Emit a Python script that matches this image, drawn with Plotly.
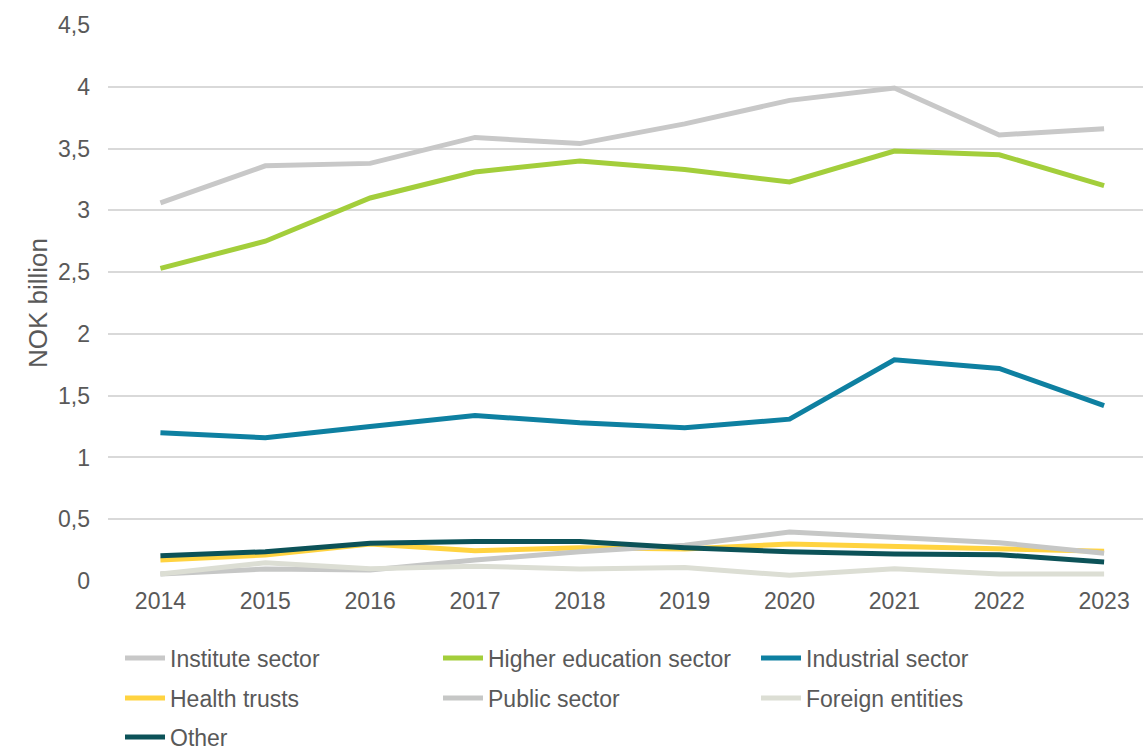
import plotly.graph_objects as go

years = [2014, 2015, 2016, 2017, 2018, 2019, 2020, 2021, 2022, 2023]

institute_sector = [3.06, 3.36, 3.38, 3.59, 3.54, 3.70, 3.89, 3.99, 3.61, 3.66]
higher_education_sector = [2.53, 2.75, 3.10, 3.31, 3.40, 3.33, 3.23, 3.48, 3.45, 3.20]
industrial_sector = [1.20, 1.16, 1.25, 1.34, 1.28, 1.24, 1.31, 1.79, 1.72, 1.42]
health_trusts = [0.17, 0.21, 0.30, 0.245, 0.27, 0.26, 0.30, 0.28, 0.27, 0.24]
public_sector = [0.057, 0.097, 0.089, 0.17, 0.237, 0.29, 0.396, 0.353, 0.31, 0.224]
foreign_entities = [0.057, 0.148, 0.10, 0.12, 0.097, 0.11, 0.046, 0.10, 0.057, 0.057]
other = [0.205, 0.237, 0.305, 0.32, 0.32, 0.27, 0.237, 0.218, 0.213, 0.154]

y_ticks = [0, 0.5, 1, 1.5, 2, 2.5, 3, 3.5, 4, 4.5]
y_tick_text = ["0", "0,5", "1", "1,5", "2", "2,5", "3", "3,5", "4", "4,5"]

# (name, values, colour, legend row)
series = [
    ("Institute sector", institute_sector, "#C8C8C8", "legend"),
    ("Higher education sector", higher_education_sector, "#A3CE3B", "legend"),
    ("Industrial sector", industrial_sector, "#0E80A1", "legend"),
    ("Health trusts", health_trusts, "#FFD340", "legend2"),
    ("Public sector", public_sector, "#C6C7C6", "legend2"),
    ("Foreign entities", foreign_entities, "#DCDED4", "legend2"),
    ("Other", other, "#0C5258", "legend3"),
]

fig = go.Figure()
for name, values, color, leg in series:
    fig.add_trace(go.Scatter(
        x=years, y=values, name=name, mode="lines",
        line=dict(color=color, width=5),
        legend=leg,
    ))

text_color = "#595959"
font_family = "Liberation Sans, Arial"


def legend_row(y):
    return dict(
        orientation="h", x=0.0116, xanchor="left", y=y, yanchor="middle",
        entrywidth=263, entrywidthmode="pixels",
        font=dict(family=font_family, size=23, color=text_color),
        itemwidth=40, bgcolor="rgba(0,0,0,0)",
    )


fig.update_layout(
    width=1143, height=753,
    paper_bgcolor="white", plot_bgcolor="white",
    margin=dict(l=108, r=0, t=25, b=172, autoexpand=False),
    font=dict(family=font_family, size=23, color=text_color),
    xaxis=dict(
        range=[2013.5, 2023.371],
        tickmode="array", tickvals=years, ticktext=[str(y) for y in years],
        showgrid=False, zeroline=False, showline=False,
        ticks="", ticklabelstandoff=4,
        tickfont=dict(size=23, color=text_color),
    ),
    yaxis=dict(
        range=[0, 4.5],
        tickmode="array", tickvals=y_ticks, ticktext=y_tick_text,
        showgrid=True, gridcolor="#D9D9D9", gridwidth=1.5,
        zeroline=False, showline=False, ticks="",
        tickfont=dict(size=23, color=text_color),
        ticklabelstandoff=17,
        title=dict(text="NOK billion", font=dict(size=26, color=text_color), standoff=2),
    ),
    legend=legend_row(-0.1385),
    legend2=legend_row(-0.2104),
    legend3=legend_row(-0.2806),
    showlegend=True,
)

fig.write_html("out.html")
